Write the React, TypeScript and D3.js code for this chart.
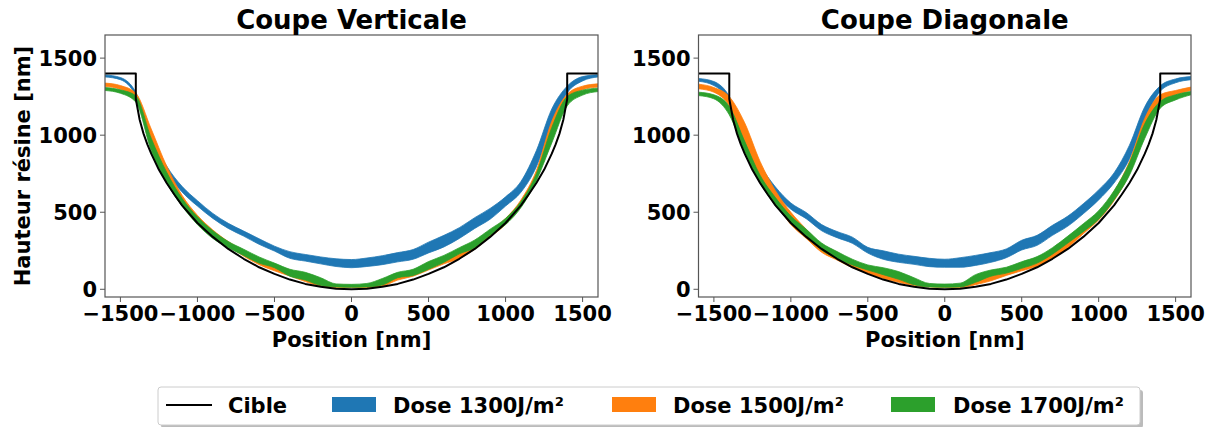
import * as d3 from 'd3'

const positions = [-1600, -1500, -1400, -1300, -1200, -1100, -1000, -900, -800, -700, -600, -500, -400, -300, -200, -100, 0, 100, 200, 300, 400, 500, 600, 700, 800, 900, 1000, 1100, 1200, 1300, 1400, 1500, 1600]

// target profile (Cible)
const cibleX = [-1600, -1400, -1400, -1375, -1350, -1325, -1300, -1250, -1200, -1150, -1100, -1000, -900, -800, -700, -600, -500, -400, -300, -200, -100, 0, 100, 200, 300, 400, 500, 600, 700, 800, 900, 1000, 1100, 1150, 1200, 1250, 1300, 1325, 1350, 1375, 1400, 1400, 1600]
const cibleY = [1400, 1400, 1235, 1100, 1010, 940, 880, 775, 690, 615, 545, 430, 340, 262, 198, 143, 100, 63, 35, 16, 4, 0, 4, 16, 35, 63, 100, 143, 198, 262, 340, 430, 545, 615, 690, 775, 880, 940, 1010, 1100, 1235, 1400, 1400]

// Coupe verticale
const vert1300Lo = [1378, 1360, 1255, 955, 760, 632, 540, 460, 395, 345, 292, 248, 201, 183, 165, 148, 140, 148, 160, 178, 195, 236, 275, 330, 395, 455, 540, 630, 795, 1070, 1275, 1352, 1378]
const vert1300Hi = [1391, 1374, 1278, 995, 800, 668, 575, 492, 428, 378, 328, 280, 244, 226, 210, 198, 193, 203, 218, 238, 258, 306, 350, 400, 465, 525, 600, 700, 900, 1170, 1318, 1380, 1392]
const vert1500Lo = [1316, 1298, 1235, 950, 720, 550, 430, 340, 280, 215, 160, 120, 86, 50, 20, 12, 12, 10, 20, 60, 85, 125, 165, 200, 260, 340, 420, 540, 720, 990, 1225, 1295, 1312]
const vert1500Hi = [1338, 1322, 1272, 1040, 800, 610, 480, 385, 310, 250, 195, 150, 104, 80, 40, 28, 25, 22, 50, 90, 115, 165, 200, 240, 300, 380, 460, 580, 770, 1090, 1265, 1318, 1333]
const vert1700Lo = [1290, 1272, 1215, 900, 690, 540, 420, 330, 270, 220, 170, 140, 85, 60, 25, 15, 13, 15, 28, 75, 90, 130, 175, 230, 270, 350, 420, 530, 705, 950, 1190, 1260, 1283]
const vert1700Hi = [1309, 1294, 1255, 980, 760, 590, 470, 380, 310, 260, 210, 170, 130, 110, 75, 35, 32, 38, 70, 110, 130, 180, 220, 270, 320, 390, 460, 570, 750, 1050, 1250, 1292, 1305]

// Coupe diagonale
const diag1300Lo = [1350, 1322, 1218, 930, 760, 622, 520, 458, 380, 335, 298, 235, 195, 175, 162, 147, 143, 143, 155, 175, 205, 255, 285, 350, 410, 490, 580, 690, 845, 1100, 1285, 1340, 1360]
const diag1300Hi = [1368, 1348, 1251, 990, 805, 664, 560, 498, 420, 375, 338, 272, 250, 228, 214, 201, 195, 205, 220, 238, 262, 318, 350, 415, 475, 555, 645, 755, 935, 1185, 1320, 1365, 1380]
const diag1500Lo = [1301, 1279, 1190, 960, 720, 560, 420, 330, 240, 190, 140, 104, 70, 45, 25, 15, 12, 12, 30, 55, 90, 120, 150, 200, 270, 360, 450, 575, 750, 1010, 1218, 1262, 1290]
const diag1500Hi = [1331, 1309, 1250, 1080, 830, 640, 500, 390, 290, 240, 180, 147, 115, 90, 55, 32, 25, 25, 70, 95, 125, 155, 190, 240, 310, 410, 500, 635, 830, 1110, 1262, 1290, 1312]
const diag1700Lo = [1257, 1236, 1132, 890, 690, 545, 430, 345, 255, 200, 158, 125, 95, 65, 30, 15, 13, 15, 45, 85, 105, 136, 170, 228, 300, 374, 455, 580, 740, 980, 1175, 1229, 1262]
const diag1700Hi = [1279, 1262, 1186, 960, 740, 595, 475, 390, 300, 245, 195, 158, 140, 115, 75, 38, 34, 40, 95, 125, 143, 179, 212, 270, 345, 425, 510, 640, 820, 1075, 1218, 1262, 1283]

const legendLabels = ['Cible', 'Dose 1300J/m²', 'Dose 1500J/m²', 'Dose 1700J/m²']
const colors = ['#1f77b4', '#ff7f0e', '#2ca02c']

const FONT = '"DejaVu Sans", sans-serif'
const AX_TOP = 35
const AX_BOTTOM = 297

interface Band { lo: number[]; hi: number[] }

function Panel({ x0, x1, title, bands, yLabel, id }: { x0: number; x1: number; title: string; bands: Band[]; yLabel?: string; id: string }) {
  const x = d3.scaleLinear().domain([-1600, 1600]).range([x0, x1])
  const y = d3.scaleLinear().domain([-50, 1650]).range([AX_BOTTOM, AX_TOP])
  const fmt = d3.format('d')

  const line = d3
    .line<number>()
    .x((d, i) => x(cibleX[i]))
    .y((d) => y(d))

  const spine = '#555'
  const cx = (x0 + x1) / 2

  return (
    <g>
      <clipPath id={id}>
        <rect x={x0} y={AX_TOP} width={x1 - x0} height={AX_BOTTOM - AX_TOP} />
      </clipPath>
      <g clipPath={`url(#${id})`}>
        {bands.map((b, k) => {
          const area = d3
            .area<number>()
            .curve(d3.curveMonotoneX)
            .x((d, i) => x(positions[i]))
            .y0((d, i) => y(b.lo[i]))
            .y1((d) => y(d))
          return <path key={k} d={area(b.hi) ?? ''} fill={colors[k]} stroke={colors[k]} strokeWidth={0.8} />
        })}
        <path d={line(cibleY) ?? ''} fill="none" stroke="#000" strokeWidth={2} strokeLinejoin="round" />
      </g>
      <rect x={x0} y={AX_TOP} width={x1 - x0} height={AX_BOTTOM - AX_TOP} fill="none" stroke={spine} strokeWidth={1.2} />
      {y.ticks(4).map((t) => (
        <g key={'y' + t}>
          <line x1={x0 - 5} x2={x0} y1={y(t)} y2={y(t)} stroke={spine} strokeWidth={1} />
          <text x={x0 - 8} y={y(t)} dy="0.36em" textAnchor="end" fontSize={21} fontWeight="bold" fontFamily={FONT}>
            {fmt(t)}
          </text>
        </g>
      ))}
      {x.ticks(7).map((t) => (
        <g key={'x' + t}>
          <line x1={x(t)} x2={x(t)} y1={AX_BOTTOM} y2={AX_BOTTOM + 5} stroke={spine} strokeWidth={1} />
          <text x={x(t)} y={321} textAnchor="middle" fontSize={21} fontWeight="bold" fontFamily={FONT}>
            {fmt(t)}
          </text>
        </g>
      ))}
      <text x={cx} y={347} textAnchor="middle" fontSize={21} fontWeight="bold" fontFamily={FONT}>
        Position [nm]
      </text>
      <text x={cx} y={29} textAnchor="middle" fontSize={26} fontWeight="bold" fontFamily={FONT}>
        {title}
      </text>
      {yLabel && (
        <text
          transform={`translate(30,${(AX_TOP + AX_BOTTOM) / 2}) rotate(-90)`}
          textAnchor="middle"
          fontSize={21}
          fontWeight="bold"
          fontFamily={FONT}
        >
          {yLabel}
        </text>
      )}
    </g>
  )
}

function Legend() {
  const itemX = [166, 332, 612, 891]
  const textX = [228, 393, 673, 953]
  const cy = 405
  return (
    <g>
      <rect x={161} y={390} width={982} height={38} rx={3} fill="#777" opacity={0.5} />
      <rect x={158} y={387} width={982} height={38} rx={3} fill="#fff" stroke="#ccc" strokeWidth={1} />
      {legendLabels.map((lab, i) => (
        <g key={lab}>
          {i === 0 ? (
            <line x1={itemX[i]} x2={itemX[i] + 46} y1={cy} y2={cy} stroke="#000" strokeWidth={2} />
          ) : (
            <rect x={itemX[i]} y={cy - 8} width={44} height={15} fill={colors[i - 1]} />
          )}
          <text x={textX[i]} y={cy} dy="0.36em" fontSize={21} fontWeight="bold" fontFamily={FONT}>
            {lab}
          </text>
        </g>
      ))}
    </g>
  )
}

export default function App() {
  const vert: Band[] = [
    { lo: vert1300Lo, hi: vert1300Hi },
    { lo: vert1500Lo, hi: vert1500Hi },
    { lo: vert1700Lo, hi: vert1700Hi },
  ]
  const diag: Band[] = [
    { lo: diag1300Lo, hi: diag1300Hi },
    { lo: diag1500Lo, hi: diag1500Hi },
    { lo: diag1700Lo, hi: diag1700Hi },
  ]
  return (
    <svg width={1214} height={427} style={{ position: 'absolute', left: 0, top: 0, background: '#fff' }}>
      <Panel x0={105} x1={598} title="Coupe Verticale" bands={vert} yLabel="Hauteur résine [nm]" id="clipV" />
      <Panel x0={698.5} x1={1191} title="Coupe Diagonale" bands={diag} id="clipD" />
      <Legend />
    </svg>
  )
}
